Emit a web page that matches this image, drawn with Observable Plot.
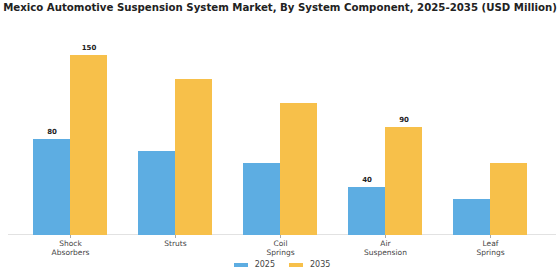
<!DOCTYPE html>
<html>
<head>
<meta charset="utf-8">
<script src="https://cdn.jsdelivr.net/npm/d3@7"></script>
<script src="https://cdn.jsdelivr.net/npm/@observablehq/plot@0.6"></script>
<style>
  body { margin: 0; background: #fff; font-family: "DejaVu Sans", sans-serif; }
  #wrap { position: relative; width: 560px; height: 280px; overflow: hidden; }
  #title { position: absolute; left: -20px; width: 600px; top: 2px; text-align: center; font-weight: bold; font-size: 10.2px; color: #222; white-space: nowrap; }
  #axisline { position: absolute; left: 8px; width: 548px; top: 234px; height: 1px; background: #e2e2e2; }
  #chart { position: absolute; left: 0; top: 28px; }
  #legend { position: absolute; top: 260px; left: 2px; width: 560px; display: flex; justify-content: center; gap: 14px; font-size: 8px; color: #444; }
  .item { display: flex; align-items: center; gap: 7px; }
  .sw { width: 14px; height: 4px; }
</style>
</head>
<body>
<div id="wrap">
  <div id="title"></div>
  <div id="axisline"></div>
  <div id="chart"></div>
  <div id="legend"></div>
</div>
<script>
const title = "Mexico Automotive Suspension System Market, By System Component, 2025-2035 (USD Million)";
const categories = ["Shock Absorbers", "Struts", "Coil Springs", "Air Suspension", "Leaf Springs"];
const years = ["2025", "2035"];
const values2025 = [80, 70, 60, 40, 30];
const values2035 = [150, 130, 110, 90, 60];
const labeledCategories = ["Shock Absorbers", "Air Suspension"];
const colors = ["#5DADE2", "#F7C04A"];

document.getElementById("title").textContent = title;

const data = [];
categories.forEach((c, i) => {
  data.push({category: c, year: years[0], value: values2025[i]});
  data.push({category: c, year: years[1], value: values2035[i]});
});
const labeled = data.filter(d => labeledCategories.includes(d.category));

const chart = Plot.plot({
  width: 560,
  height: 229,
  marginTop: 27,
  marginBottom: 22,
  marginLeft: 15,
  marginRight: 15,
  style: {fontFamily: "DejaVu Sans, sans-serif", background: "transparent"},
  fx: {domain: categories, paddingInner: 0.3, paddingOuter: 0.157, label: null, axis: null},
  x: {domain: years, padding: 0, axis: null},
  y: {domain: [0, 150], axis: null},
  color: {domain: years, range: colors},
  marks: [
    Plot.axisFx({
      anchor: "bottom",
      tickSize: 3,
      tickPadding: 1.5,
      fontSize: 7.5,
      fill: "#444",
      stroke: "#aaa",
      tickFormat: d => d.replace(" ", "\n"),
      lineHeight: 1.15,
      label: null
    }),
    Plot.barY(data, {fx: "category", x: "year", y: "value", fill: "year"}),
    Plot.text(labeled, {fx: "category", x: "year", y: "value", text: d => String(d.value), dy: -8, fontSize: 7, fontWeight: "bold", fill: "#222"})
  ]
});
document.getElementById("chart").appendChild(chart);

const legend = document.getElementById("legend");
years.forEach((y, i) => {
  const item = document.createElement("div");
  item.className = "item";
  const sw = document.createElement("div");
  sw.className = "sw";
  sw.style.background = colors[i];
  const t = document.createElement("span");
  t.textContent = y;
  item.appendChild(sw);
  item.appendChild(t);
  legend.appendChild(item);
});
</script>
</body>
</html>
